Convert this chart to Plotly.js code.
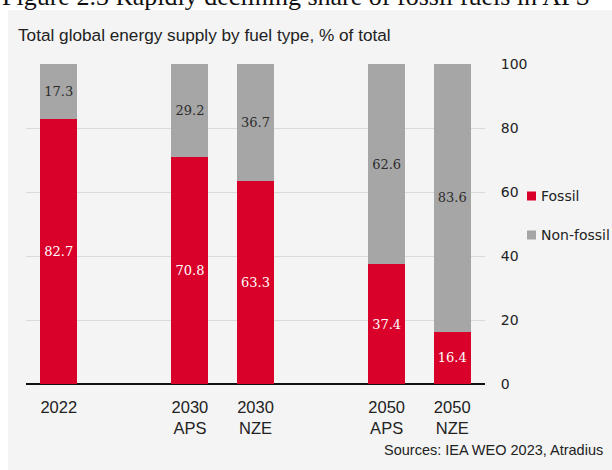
<!DOCTYPE html>
<html>
<head>
<meta charset="utf-8">
<script src="https://cdn.plot.ly/plotly-3.0.1.min.js"></script>
<style>
  html, body { margin: 0; padding: 0; background: #ffffff; }
  #chart { width: 612px; height: 470px; }
</style>
</head>
<body>
<div id="chart"></div>
<script>
// ---- Data ----
const categories = ["2022", "2030<br>APS", "2030<br>NZE", "2050<br>APS", "2050<br>NZE"];
const axisOrder = ["2022", " ", "2030<br>APS", "2030<br>NZE", "  ", "2050<br>APS", "2050<br>NZE"];
const fossil = [82.7, 70.8, 63.3, 37.4, 16.4];
const nonFossil = [17.3, 29.2, 36.7, 62.6, 83.6];
const yTicks = [0, 20, 40, 60, 80, 100];
const seriesNames = ["Fossil", "Non-fossil"];

const figureTitle = "Figure 2.3 Rapidly declining share of fossil fuels in APS";
const chartTitle = "Total global energy supply by fuel type, % of total";
const sourceText = "Sources: IEA WEO 2023, Atradius";

// ---- Styles ----
const RED = "#d9002a";
const GREY = "#a6a6a6";
const BG = "#f4f4f4";
const TXT = "Liberation Sans, Arial, sans-serif";
const SANS = "DejaVu Sans, sans-serif";
const SERIF = "DejaVu Serif, serif";

// plot area geometry in pixels
const W = 612, H = 470;
const M = { l: 26, r: 127, t: 64, b: 86 };
const PW = W - M.l - M.r, PH = H - M.t - M.b;
const px = x => (x - M.l) / PW;          // pixel x -> paper x
const py = y => (H - M.b - y) / PH;      // pixel y -> paper y

const colors = [RED, GREY];
const labelColors = ["#ffffff", "#2b2b2b"];
const seriesValues = [fossil, nonFossil];

const traces = seriesValues.map((vals, i) => ({
  type: "bar", name: seriesNames[i], x: categories, y: vals,
  marker: { color: colors[i], line: { width: 0 } },
  texttemplate: "%{y:.1f}", textposition: "inside", insidetextanchor: "middle",
  textangle: 0, constraintext: "none",
  textfont: { family: SERIF, size: 13, color: labelColors[i] },
  showlegend: false, hoverinfo: "skip"
}));

// legend keys (square + label), laid out in pixels to the right of the axis
const legendRowsY = [196, 235];
const legendShapes = seriesNames.map((n, i) => ({
  type: "rect", xref: "paper", yref: "paper", layer: "above",
  x0: px(527), x1: px(536), y0: py(legendRowsY[i] + 4.5), y1: py(legendRowsY[i] - 4.5),
  fillcolor: colors[i], line: { width: 0 }
}));
const legendTexts = seriesNames.map((n, i) => ({
  text: n, xref: "paper", yref: "paper",
  x: px(539), xanchor: "left", y: py(legendRowsY[i]), yanchor: "middle",
  showarrow: false, font: { family: SANS, size: 14, color: "#222222" }
}));

const layout = {
  width: W, height: H,
  margin: M,
  paper_bgcolor: "#ffffff",
  plot_bgcolor: "rgba(0,0,0,0)",
  barmode: "stack",
  bargap: 0.435,
  showlegend: false,
  xaxis: {
    type: "category", categoryorder: "array", categoryarray: axisOrder,
    range: [-0.5, 6.5], fixedrange: true,
    showgrid: false, zeroline: false, showline: false, ticks: "",
    tickfont: { family: TXT, size: 16.5, color: "#222222" },
    ticklabelstandoff: 11
  },
  yaxis: {
    side: "right", range: [0, 100], tickvals: yTicks, fixedrange: true,
    showgrid: true, gridcolor: "#dadada", gridwidth: 1,
    zeroline: true, zerolinecolor: "#111111", zerolinewidth: 2,
    showline: false, ticks: "outside", ticklen: 12, tickcolor: "rgba(0,0,0,0)",
    tickfont: { family: SANS, size: 14, color: "#222222" }
  },
  shapes: [
    {
      type: "rect", xref: "paper", yref: "paper", layer: "below",
      x0: px(8), x1: px(612), y0: py(470), y1: py(10),
      fillcolor: BG, line: { width: 0 }
    }
  ].concat(legendShapes),
  annotations: [
    {
      text: figureTitle, xref: "paper", yref: "paper",
      x: px(0), xanchor: "left", y: py(13), yanchor: "bottom",
      showarrow: false, font: { family: "Liberation Serif, serif", size: 26, color: "#111111" }
    },
    {
      text: chartTitle, xref: "paper", yref: "paper",
      x: px(16), xanchor: "left", y: py(35), yanchor: "middle",
      showarrow: false, font: { family: TXT, size: 17.2, color: "#222222" }
    },
    {
      text: sourceText, xref: "paper", yref: "paper",
      x: px(605), xanchor: "right", y: py(450), yanchor: "middle",
      showarrow: false, font: { family: TXT, size: 14.5, color: "#222222" }
    }
  ].concat(legendTexts)
};

Plotly.newPlot("chart", traces, layout, { displayModeBar: false, staticPlot: true });
</script>
</body>
</html>
